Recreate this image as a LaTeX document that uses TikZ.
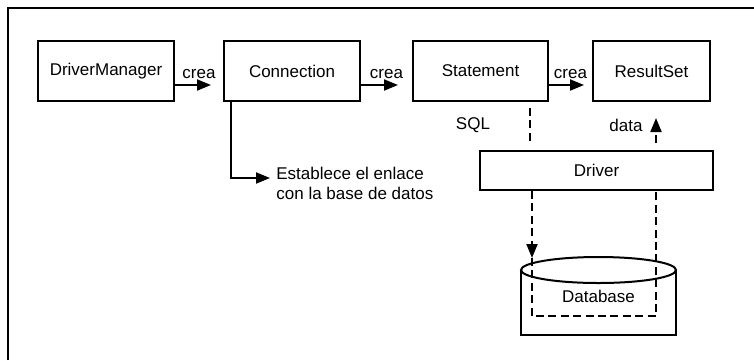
\documentclass[tikz,border=0pt]{standalone}
\usepackage{fontspec}
\setmainfont{Liberation Sans}
\usetikzlibrary{arrows.meta}

\begin{document}
\begin{tikzpicture}[x=0.5pt,y=-0.5pt]
        \tikzstyle{block}=[rectangle,draw=black,line width=1pt,minimum height=30pt,inner sep=0pt,font=\fontsize{8.5}{10}\selectfont]
        \tikzstyle{tag}=[font=\fontsize{8.5}{10}\selectfont,inner sep=1.5pt]
        \tikzstyle{edge}=[draw,line width=1pt,-{Triangle[length=7pt,width=5.5pt]}]
        \tikzstyle{flow}=[draw,line width=1pt,dash pattern=on 4pt off 2.2pt]
        \useasboundingbox (0,0) rectangle (754,360);
        % outer frame (only top and left edges show)
        \draw[line width=1pt] (8,360) -- (8,8) -- (754,8);
        \begin{scope}
           \node [block,minimum width=68pt] (dm) at (106,71) {DriverManager};
           \node [block,minimum width=68pt] (conn) at (292,71) {Connection};
           \node [block,minimum width=67.5pt] (stmt) at (480.5,71) {Statement};
           \node [block,minimum width=58.5pt] (rs) at (651.5,71) {ResultSet};
           \node [block,minimum width=116.5pt,minimum height=19.5pt] (drv) at (596.5,170.5) {Driver};
           % crea arrows
           \path[edge,shorten >=6pt] ([yshift=-7pt]dm.east) -- ([yshift=-7pt]dm.east -| conn.west) node[tag,midway,above=1pt] {crea};
           \path[edge,shorten >=7pt] ([yshift=-7pt]conn.east) -- ([yshift=-7pt]conn.east -| stmt.west) node[tag,midway,above=1pt] {crea};
           \path[edge,shorten >=4pt] ([yshift=-7pt]stmt.east) -- ([yshift=-7pt]stmt.east -| rs.west) node[tag,midway,above=1pt] {crea};
           % connection note
           \node [tag,anchor=west,align=left,inner sep=3pt] (enlace) at (270,183) {Establece el enlace\\con la base de datos};
           \coordinate (bend) at (231,178);
           \path[edge] (conn.south -| bend) -- (bend) -- (bend -| enlace.west);
        \end{scope}
        % database
        \draw[line width=1pt] (521,270) -- (521,335) -- (676,335) -- (676,270);
        \draw[line width=1pt] (598.5,270) ellipse [x radius=38.75pt, y radius=6.5pt];
        \node [tag] (db) at (598.5,296) {Database};
        % SQL / data through the driver
        \coordinate (sqlIn) at (530,151);
        \coordinate (dataOut) at (656,151);
        \path[flow,shorten <=3pt,shorten >=4pt] (stmt.south -| sqlIn) -- (sqlIn);
        \path[flow,-{Triangle[length=7pt,width=5.5pt]},shorten <=4pt,shorten >=8pt] (dataOut) -- (rs.south -| dataOut);
        \node [tag] (sql) at (473,125) {SQL};
        \node [tag] (data) at (626,125) {data};
        % round trip to the database
        \coordinate (dbIn) at (532,258);
        \coordinate (dbL) at (532,316);
        \coordinate (dbR) at (656,316);
        \path[flow,-{Triangle[length=7pt,width=5.5pt]}] (drv.south -| dbIn) -- (dbIn);
        \path[flow] (dbIn) -- (dbL) -- (dbR) -- (dbR |- drv.south);
      \end{tikzpicture}
\end{document}
